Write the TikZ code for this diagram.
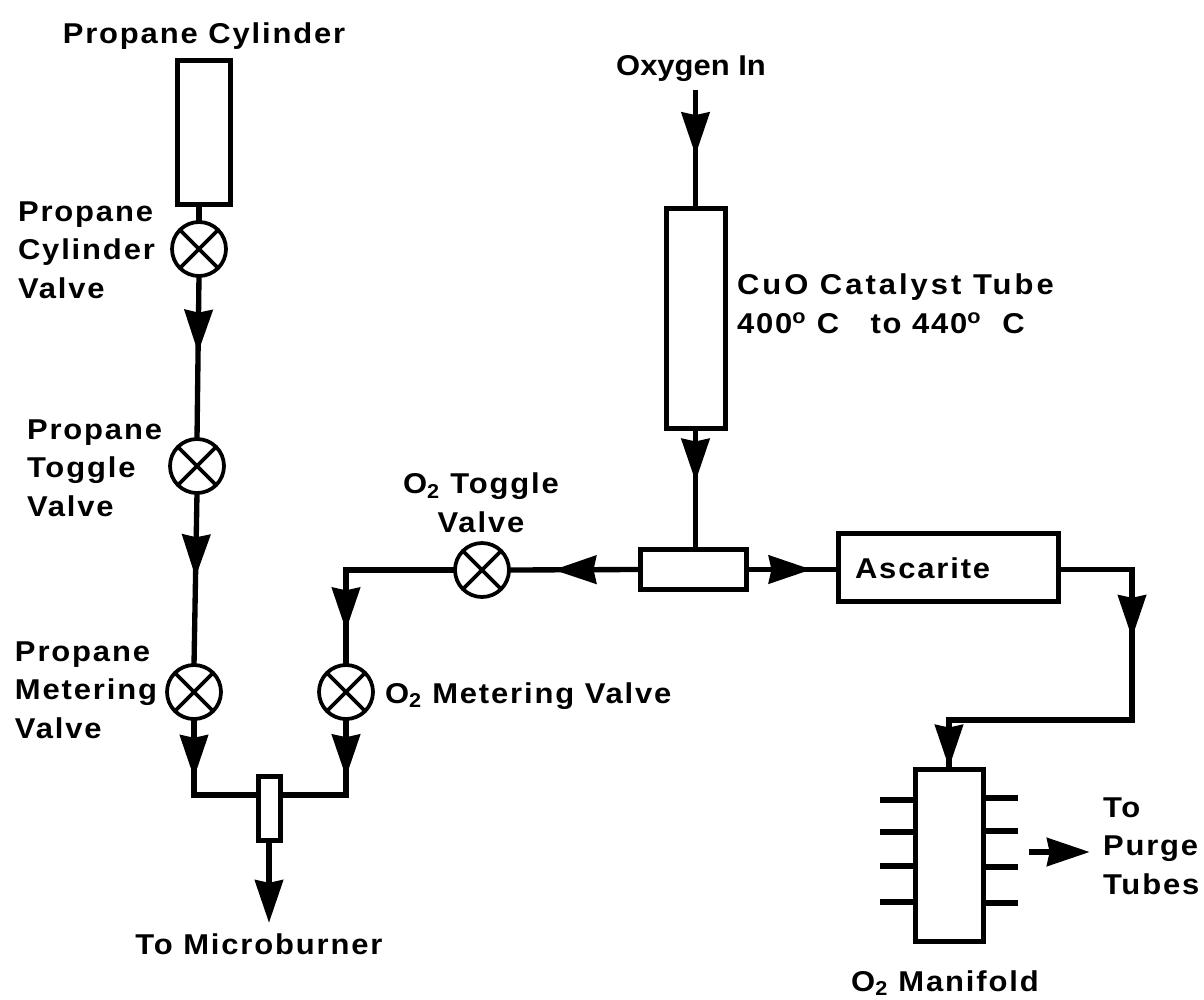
\documentclass[tikz,border=0pt]{standalone}
\usepackage{fontspec}
\setmainfont[FakeStretch=1.08,LetterSpace=6.5,BoldFont={Liberation Sans Bold}]{Liberation Sans Bold}
\usetikzlibrary{arrows.meta,decorations.markings}
\tikzset{flowtip/.tip={Stealth[length=32pt,width=21pt,inset=2pt]}}

\begin{document}
\begin{tikzpicture}[
                x=0.75pt, y=-0.75pt,
                every node/.append style = {font=\fontsize{21.5}{29}\selectfont, inner sep=0pt, outer sep=0pt},
                vessel/.style = {draw, line width=3.75pt, rectangle},
                valve/.style = {draw, line width=2.8pt, circle, minimum size=40.5pt,
                    path picture={\draw[line width=2.8pt] (path picture bounding box.north west) -- (path picture bounding box.south east)
                        (path picture bounding box.north east) -- (path picture bounding box.south west);}},
                pipe/.style = {line width=4pt},
                flowmark/.style = {postaction={decorate, decoration={markings, mark=at position #1 with {\arrow{flowtip}}}}}]
            \useasboundingbox (0,0) rectangle (1204,1000);
            % propane side
            \node (cylinderlabel) at (204,36) {Propane Cylinder};
            \node[vessel, minimum width=39.75pt, minimum height=108pt] (cylinder) at (203.5,132) {};
            \node[valve] (cylindervalve) at (199,249) {};
            \node[valve] (togglevalve) at (197,466) {};
            \node[valve] (meteringvalve) at (194,692) {};
            \node[anchor=west, align=left] (cylindervalvelabel) at (18,250) {Propane\\Cylinder\\Valve};
            \node[anchor=west, align=left] (togglevalvelabel) at (27,468) {Propane\\Toggle\\Valve};
            \node[anchor=west, align=left] (meteringvalvelabel) at (15,690) {Propane\\Metering\\Valve};
            % oxygen side
            \node (oxygenlabel) at (691,69) {\addfontfeature{LetterSpace=0}Oxygen In};
            \node[vessel, minimum width=44.25pt, minimum height=165pt] (catalyst) at (695.5,318) {};
            \node[anchor=west, align=left] (catalystlabel) at (737,304) {\addfontfeature{LetterSpace=10.5}CuO Catalyst Tube\\400\textsuperscript{o}~C~~~to 440\textsuperscript{o}~~C};
            \node[vessel, minimum width=79.5pt, minimum height=30pt] (tee) at (693,569.5) {};
            \node[vessel, minimum width=165.5pt, minimum height=51.5pt] (ascarite) at (948.5,567.5) {};
            \node[anchor=west] (ascaritelabel) at (855,568) {Ascarite};
            \node[valve] (otogglevalve) at (482,570) {};
            \node[valve] (ometeringvalve) at (346,692) {};
            \node[align=center] (otogglelabel) at (481,503) {O\textsubscript{2} Toggle\\Valve};
            \node[anchor=west] (ometeringlabel) at (385,696) {O\textsubscript{2} Metering Valve};
            % burner and manifold
            \node[vessel, minimum width=16.5pt, minimum height=48pt] (mixer) at (269,808) {};
            \node (burnerlabel) at (259,944) {To Microburner};
            \node[vessel, minimum width=51pt, minimum height=128.5pt] (manifold) at (949,855.5) {};
            \node (manifoldlabel) at (945,983) {O\textsubscript{2} Manifold};
            \node[anchor=west, align=left] (purgelabel) at (1103,846) {To\\Purge\\Tubes};
            \coordinate (mixerin) at (269,795);
            \coordinate (bend) at (1132,720);
            \coordinate (purgetail) at (1029,852);

            \draw[pipe] (cylindervalve.north |- cylinder.south) -- (cylindervalve.north);
            \draw[pipe, flowmark=.47] (cylindervalve.south) -- (togglevalve.north);
            \draw[pipe, flowmark=.49] (togglevalve.south) -- (meteringvalve.north);
            \draw[pipe, flowmark=.42] (meteringvalve.south) |- (mixerin -| mixer.west);
            \draw[pipe, flowmark=.41] (ometeringvalve.south) |- (mixerin -| mixer.east);
            \draw[pipe, -flowtip, shorten >=8pt] (mixer.south) -- (burnerlabel.north -| mixer.south);
            \draw[pipe, flowmark=.58, shorten <=6pt] (oxygenlabel.south -| catalyst.north) -- (catalyst.north);
            \draw[pipe, flowmark=.44] (catalyst.south) -- (catalyst.south |- tee.north);
            \draw[pipe, flowmark=.66] (tee.west) -- (otogglevalve.east);
            \draw[pipe, flowmark=.83] (otogglevalve.west) -| (ometeringvalve.north);
            \draw[pipe, flowmark=.71] (tee.east) -- (ascarite.west |- tee.east);
            \draw[pipe, flowmark=.31, flowmark=.995] (ascarite.east |- tee.east) -| (bend) -| (manifold.north);
            \draw[pipe, -flowtip, shorten >=10pt] (purgetail) -- (purgelabel.west |- purgetail);
            \foreach \stub in {800,832,866,902}
                \draw[pipe] (manifold.west |- 0,\stub) -- ++(-35,0);
            \foreach \stub in {798,831,867,903}
                \draw[pipe] (manifold.east |- 0,\stub) -- ++(35,0);
\end{tikzpicture}
\end{document}
